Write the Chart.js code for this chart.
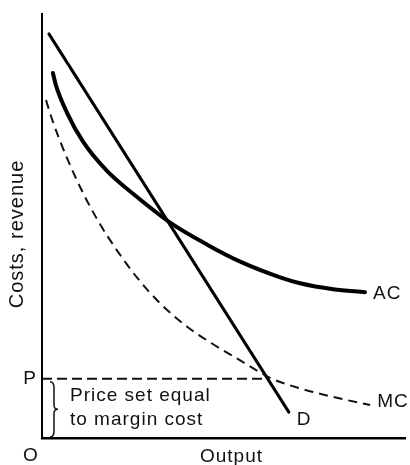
<!DOCTYPE html>
<html>
<head>
<meta charset="utf-8">
<script src="https://cdn.jsdelivr.net/npm/chart.js@4/dist/chart.umd.min.js"></script>
<style>
  body { margin: 0; background: #fff; }
  canvas { display: block; }
</style>
</head>
<body>
<canvas id="cout" width="410" height="465"></canvas>
<script>
// données (axes de 0 à 100, sans unité)
const acX = [3.0, 3.8, 6.9, 11.3, 17.9, 25.1, 35.3, 45.5, 54.6, 65.6, 71.1, 80.2, 89.0]
const acY = [86.1, 83.3, 76.7, 69.9, 63.0, 57.6, 50.8, 45.6, 41.6, 37.9, 36.5, 35.1, 34.4]

const mcX = [1.1, 3.0, 6.9, 11.3, 16.0, 20.7, 26.2, 32.5, 39.9, 45.5, 54.6, 62.8, 71.1, 83.2, 90.4]
const mcY = [79.7, 74.6, 66.0, 57.8, 50.4, 44.2, 37.8, 31.8, 26.3, 23.0, 18.3, 14.2, 11.7, 9.1, 7.8]

const dX = [1.9, 68.0]
const dY = [95.3, 6.1]

// prix P = coût marginal
const prixP = 14.0
const pLineX = [0, 62.5]

const toXY = (xs, ys) => xs.map((x, i) => ({ x: x, y: ys[i] }))

const police = "19px 'Liberation Sans', Arial, sans-serif"

// textes et accolade
const etiquettes = {
  id: 'etiquettes',
  afterDraw(chart) {
    const ctx = chart.ctx
    const sx = chart.scales.x
    const sy = chart.scales.y
    ctx.save()
    ctx.fillStyle = '#111'
    ctx.font = police
    ctx.letterSpacing = '1px'
    ctx.textBaseline = 'middle'
    ctx.textAlign = 'left'

    const last = (a) => a[a.length - 1]
    ctx.fillText('AC', sx.getPixelForValue(last(acX)) + 8, sy.getPixelForValue(last(acY)) + 2)
    ctx.fillText('MC', sx.getPixelForValue(last(mcX)) + 7, sy.getPixelForValue(last(mcY)) - 3)
    ctx.fillText('D', sx.getPixelForValue(last(dX)) + 8, sy.getPixelForValue(last(dY)) + 8)

    ctx.textAlign = 'center'
    ctx.fillText('P', sx.left - 12, sy.getPixelForValue(prixP))
    ctx.fillText('O', sx.left - 11, sy.bottom + 18)
    ctx.fillText('Output', (sx.left + sx.right) / 2 + 8, sy.bottom + 19)

    ctx.textAlign = 'left'
    ctx.fillText('Price set equal', sx.left + 28, sy.getPixelForValue(prixP) + 17)
    ctx.fillText('to margin cost', sx.left + 28, sy.getPixelForValue(prixP) + 41)

    // titre vertical
    ctx.save()
    ctx.translate(17, 234)
    ctx.rotate(-Math.PI / 2)
    ctx.textAlign = 'center'
    ctx.font = "20px 'Liberation Sans', Arial, sans-serif"
    ctx.fillText('Costs, revenue', 0, 0)
    ctx.restore()

    // accolade }
    const top = sy.getPixelForValue(prixP) + 3
    const bot = sy.bottom - 1
    const mid = (top + bot) / 2
    const x0 = sx.left + 8
    const x1 = x0 + 4
    ctx.strokeStyle = '#111'
    ctx.lineWidth = 1.5
    ctx.beginPath()
    ctx.moveTo(x0, top)
    ctx.quadraticCurveTo(x1, top, x1, top + 6)
    ctx.lineTo(x1, mid - 4)
    ctx.quadraticCurveTo(x1, mid, x1 + 4, mid)
    ctx.quadraticCurveTo(x1, mid, x1, mid + 4)
    ctx.lineTo(x1, bot - 6)
    ctx.quadraticCurveTo(x1, bot, x0, bot)
    ctx.stroke()
    ctx.restore()
  }
}

new Chart(document.getElementById('cout'), {
  type: 'line',
  data: {
    datasets: [
      {
        label: 'AC',
        data: toXY(acX, acY),
        borderColor: '#000',
        borderWidth: 4,
        borderCapStyle: 'round',
        cubicInterpolationMode: 'monotone',
        pointRadius: 0
      },
      {
        label: 'MC',
        data: toXY(mcX, mcY),
        borderColor: '#111',
        borderWidth: 2,
        borderDash: [9, 6],
        cubicInterpolationMode: 'monotone',
        pointRadius: 0
      },
      {
        label: 'D',
        data: toXY(dX, dY),
        borderColor: '#000',
        borderWidth: 3,
        borderCapStyle: 'round',
        pointRadius: 0
      },
      {
        label: 'P',
        data: toXY(pLineX, [prixP, prixP]),
        borderColor: '#111',
        borderWidth: 2,
        borderDash: [10, 5],
        pointRadius: 0
      }
    ]
  },
  options: {
    responsive: false,
    animation: false,
    layout: { padding: { left: 42, right: 5, top: 14, bottom: 27 } },
    plugins: {
      legend: { display: false },
      tooltip: { enabled: false }
    },
    scales: {
      x: {
        type: 'linear',
        min: 0,
        max: 100,
        grid: { display: false },
        ticks: { display: false },
        border: { display: true, color: '#000', width: 2.5 },
        afterFit: (s) => { s.height = 0 }
      },
      y: {
        min: 0,
        max: 100,
        grid: { display: false },
        ticks: { display: false },
        border: { display: true, color: '#000', width: 2 },
        afterFit: (s) => { s.width = 0 }
      }
    }
  },
  plugins: [etiquettes]
})
</script>
</body>
</html>
